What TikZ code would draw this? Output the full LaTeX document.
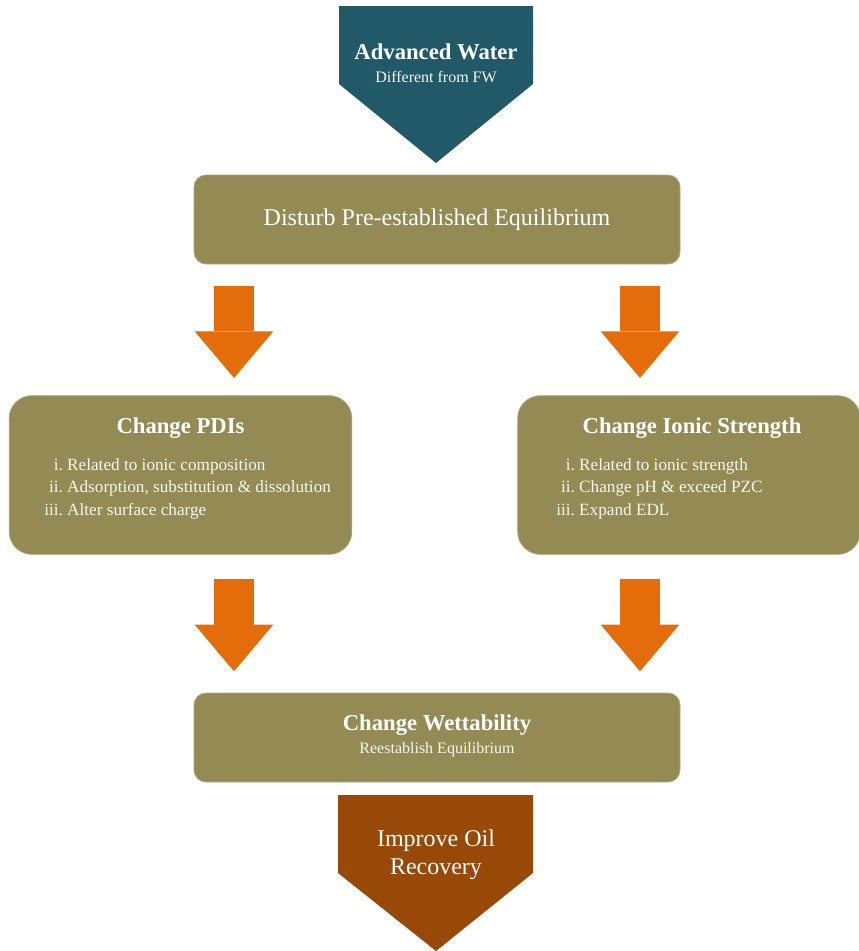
\documentclass[tikz,border=0pt]{standalone}
\usepackage{fontspec}
\setmainfont{Liberation Serif}
\usetikzlibrary{arrows.meta,positioning,calc}

\definecolor{waterteal}{HTML}{215968}
\definecolor{boxolive}{HTML}{948A54}
\definecolor{floworange}{HTML}{E46C0A}
\definecolor{oilbrown}{HTML}{984807}

\begin{document}
\begin{tikzpicture}[
  x=0.75pt, y=-0.75pt,
  box/.style={fill=boxolive, draw=boxolive!75!white, line width=0.6pt, inner sep=0pt},
  widebox/.style={box, rounded corners=9pt, minimum width=364.5pt, minimum height=66.75pt},
  sidebox/.style={box, rounded corners=17pt, minimum width=257pt, minimum height=119pt},
  title/.style={text=white, font=\fontsize{17}{21}\selectfont\bfseries, align=center, inner sep=0pt},
  sub/.style={text=white!92!boxolive, font=\fontsize{12}{14}\selectfont, align=center, inner sep=0pt},
  items/.style={text=white!92!boxolive, font=\fontsize{12.9}{17}\selectfont, inner sep=0pt},
  flow/.style={draw=floworange, line width=30pt, -{Triangle[length=35pt, width=59pt, line width=0pt]}}
]
\useasboundingbox (0,0) rectangle (859,951);

% top: incoming water
\fill[waterteal] (339,6) -- (533,6) -- (533,84) -- (436,163) -- (339,84) -- cycle;
\node[title, anchor=base] (water) at (436,59) {Advanced Water};
\node[sub, anchor=base] (waterfw) at (436,82) {Different from FW};

\node[widebox, text=white, font=\fontsize{18}{21}\selectfont] (disturb) at (437,219.5) {Disturb Pre-established Equilibrium};

% the two mechanisms
\node[sidebox] (pdi) at (180.5,475) {};
\node[title, anchor=base] (pdititle) at (180.5,433) {Change PDIs};
\node[items, anchor=base west] (pdilist) at (44,470) {\begin{tabular}[t]{@{}r@{\ }l@{}}
  i. & Related to ionic composition\\
  ii. & Adsorption, substitution \& dissolution\\
  iii. & Alter surface charge
\end{tabular}};

\node[sidebox] (ionic) at (689,475) {};
\node[title, anchor=base] (ionictitle) at (692,433) {Change Ionic Strength};
\node[items, anchor=base west] (ioniclist) at (556,470) {\begin{tabular}[t]{@{}r@{\ }l@{}}
  i. & Related to ionic strength\\
  ii. & Change pH \& exceed PZC\\
  iii. & Expand EDL
\end{tabular}};

\node[widebox] (wett) at (437,737.5) {};
\node[title, anchor=base] (wetttitle) at (437,730) {Change Wettability};
\node[sub, anchor=base] (wettsub) at (437,753) {Reestablish Equilibrium};

% bottom: result
\fill[oilbrown] (338,795) -- (533,795) -- (533,873) -- (436,951) -- (338,873) -- cycle;
\node[title, font=\fontsize{18}{21}\selectfont] (oil) at (436,855) {Improve Oil\\Recovery};

% block arrows
\coordinate (lcol) at (234,0);
\coordinate (rcol) at (640,0);
\draw[flow, shorten <=16pt, shorten >=13pt] (disturb.south -| lcol) -- (pdi.north -| lcol);
\draw[flow, shorten <=16pt, shorten >=13pt] (disturb.south -| rcol) -- (ionic.north -| rcol);
\draw[flow, shorten <=18pt, shorten >=16pt] (pdi.south -| lcol) -- (wett.north -| lcol);
\draw[flow, shorten <=18pt, shorten >=16pt] (ionic.south -| rcol) -- (wett.north -| rcol);
\end{tikzpicture}
\end{document}
